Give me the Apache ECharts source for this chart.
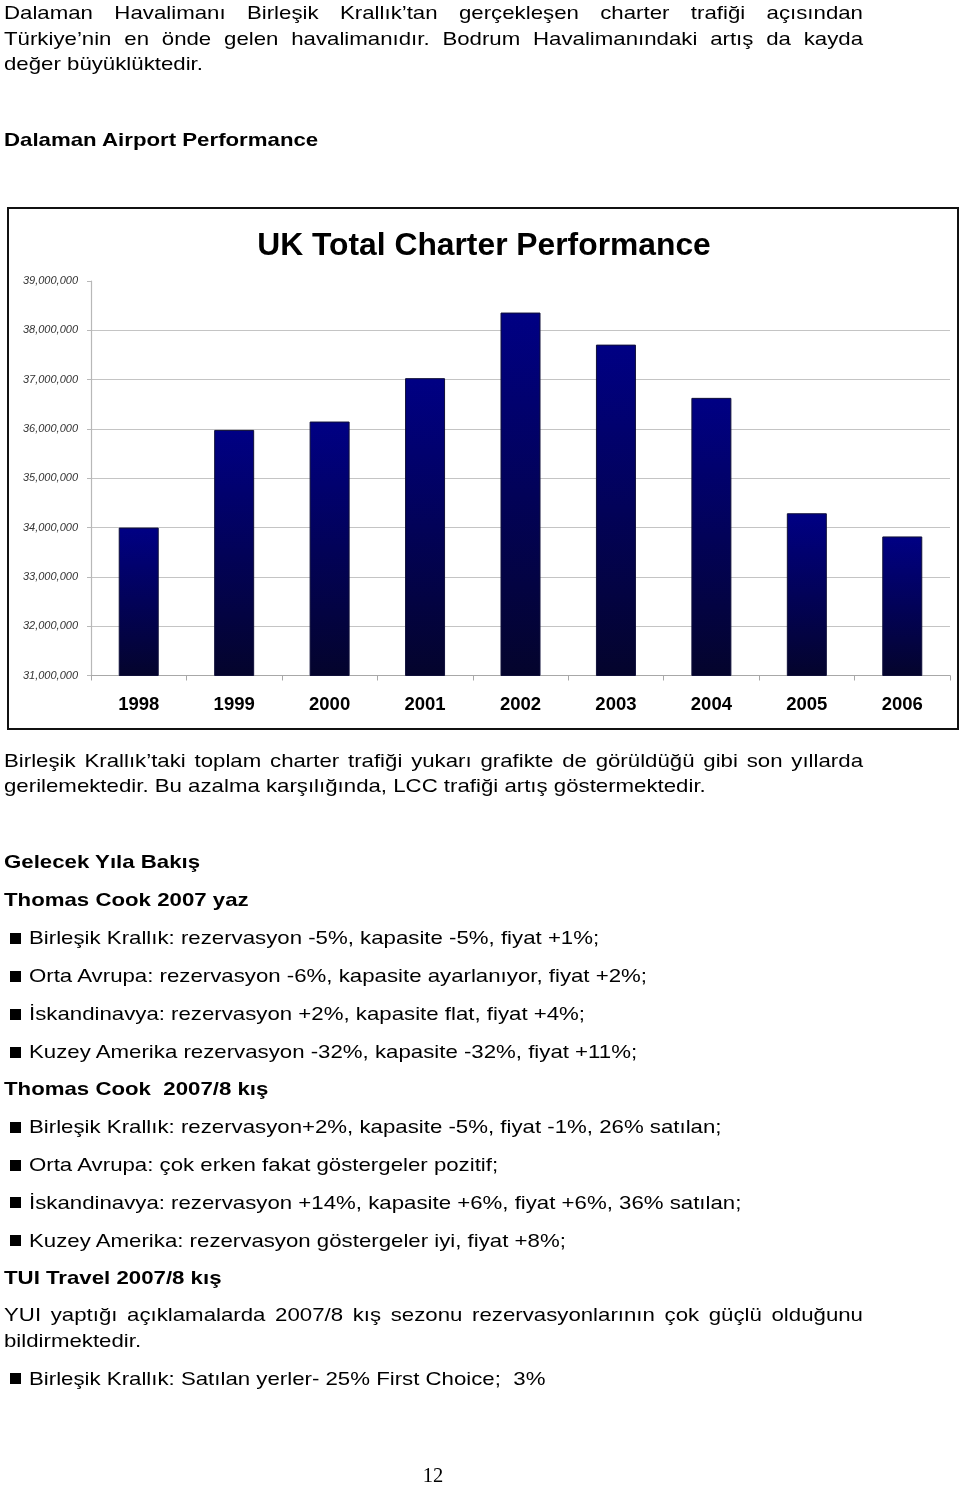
<!DOCTYPE html>
<html>
<head>
<meta charset="utf-8">
<script src="https://cdn.jsdelivr.net/npm/echarts@6/dist/echarts.min.js"></script>
<style>
  html, body { margin: 0; padding: 0; background: #fff; }
  body { width: 960px; height: 1485px; position: relative; overflow: hidden; }
  #chart { position: absolute; left: 0; top: 0; width: 960px; height: 1485px; }
  .ln { position: absolute; left: 4px; font-family: "Liberation Sans", Arial, sans-serif; font-size: 19px;
        line-height: 25px; height: 25px; color: #000; white-space: nowrap; transform: scaleX(1.17); transform-origin: 0 0; }
  .j { width: 734.2px; text-align: justify; text-align-last: justify; white-space: normal; }
  .b { font-weight: bold; }
  .bl { left: 29px; }
  .sq { position: absolute; left: 10px; width: 11px; height: 11px; background: #000; }
  .pg { position: absolute; left: 0; width: 866px; text-align: center; top: 1463px; font-family: "Liberation Serif", "Times New Roman", serif; font-size: 20.5px; line-height: 25px; }
</style>
</head>
<body>
<div id="chart"></div>

<div class="ln j" style="top:0px">Dalaman Havalimanı Birleşik Krallık’tan gerçekleşen charter trafiği açısından</div>
<div class="ln j" style="top:25.6px">Türkiye’nin en önde gelen havalimanıdır. Bodrum Havalimanındaki artış da kayda</div>
<div class="ln" style="top:51.2px">değer büyüklüktedir.</div>

<div class="ln b" style="top:127px">Dalaman Airport Performance</div>

<div class="ln j" style="top:747.7px">Birleşik Krallık’taki toplam charter trafiği yukarı grafikte de görüldüğü gibi son yıllarda</div>
<div class="ln" style="top:773.2px">gerilemektedir. Bu azalma karşılığında, LCC trafiği artış göstermektedir.</div>

<div class="ln b" style="top:848.7px">Gelecek Yıla Bakış</div>
<div class="ln b" style="top:886.7px">Thomas Cook 2007 yaz</div>

<div class="sq" style="top:933px"></div>
<div class="ln bl" style="top:925px">Birleşik Krallık: rezervasyon -5%, kapasite -5%, fiyat +1%;</div>
<div class="sq" style="top:971px"></div>
<div class="ln bl" style="top:963px">Orta Avrupa: rezervasyon -6%, kapasite ayarlanıyor, fiyat +2%;</div>
<div class="sq" style="top:1009px"></div>
<div class="ln bl" style="top:1001px">İskandinavya: rezervasyon +2%, kapasite flat, fiyat +4%;</div>
<div class="sq" style="top:1047px"></div>
<div class="ln bl" style="top:1039px">Kuzey Amerika rezervasyon -32%, kapasite -32%, fiyat +11%;</div>

<div class="ln b" style="top:1075.5px">Thomas Cook&nbsp; 2007/8 kış</div>

<div class="sq" style="top:1122px"></div>
<div class="ln bl" style="top:1114px">Birleşik Krallık: rezervasyon+2%, kapasite -5%, fiyat -1%, 26% satılan;</div>
<div class="sq" style="top:1160px"></div>
<div class="ln bl" style="top:1152px">Orta Avrupa: çok erken fakat göstergeler pozitif;</div>
<div class="sq" style="top:1197px"></div>
<div class="ln bl" style="top:1189.5px">İskandinavya: rezervasyon +14%, kapasite +6%, fiyat +6%, 36% satılan;</div>
<div class="sq" style="top:1235px"></div>
<div class="ln bl" style="top:1227.5px">Kuzey Amerika: rezervasyon göstergeler iyi, fiyat +8%;</div>

<div class="ln b" style="top:1264.5px">TUI Travel 2007/8 kış</div>

<div class="ln j" style="top:1302px">YUI yaptığı açıklamalarda 2007/8 kış sezonu rezervasyonlarının çok güçlü olduğunu</div>
<div class="ln" style="top:1327.5px">bildirmektedir.</div>

<div class="sq" style="top:1373px"></div>
<div class="ln bl" style="top:1366px">Birleşik Krallık: Satılan yerler- 25% First Choice;&nbsp; 3%</div>

<div class="pg">12</div>

<script>
// ---- data ----
const years = ['1998', '1999', '2000', '2001', '2002', '2003', '2004', '2005', '2006'];
const ukCharterPassengers = [34000000, 35980000, 36150000, 37030000, 38360000, 37710000, 36630000, 34290000, 33820000];
const yAxisMin = 31000000;
const yAxisMax = 39000000;
const yAxisStep = 1000000;
const chartTitle = 'UK Total Charter Performance';

// gridline colours: hide the top (max) gridline
const nLines = Math.round((yAxisMax - yAxisMin) / yAxisStep) + 1;
const splitColors = [];
for (let i = 0; i < nLines; i++) splitColors.push(i === nLines - 1 ? 'rgba(0,0,0,0)' : '#c4c4c4');

const chart = echarts.init(document.getElementById('chart'), null, { renderer: 'canvas' });
chart.setOption({
  backgroundColor: 'transparent',
  animation: false,
  graphic: [
    { type: 'rect', shape: { x: 8, y: 208, width: 950, height: 521 },
      style: { fill: 'none', stroke: '#111', lineWidth: 2 }, z: 0 },
    { type: 'text', x: 484, y: 246.5,
      style: { text: chartTitle, font: 'bold 31.8px "Liberation Sans", Arial, sans-serif',
               fill: '#000', textAlign: 'center', textVerticalAlign: 'middle' } }
  ],
  grid: { left: 91, right: 10, top: 281, bottom: 1485 - 675.5, containLabel: false },
  xAxis: {
    type: 'category',
    data: years,
    boundaryGap: true,
    axisLine: { show: true, lineStyle: { color: '#a8a8a8', width: 1 } },
    axisTick: { show: true, length: 5, alignWithLabel: false, lineStyle: { color: '#a8a8a8' } },
    axisLabel: { margin: 20, color: '#000', fontWeight: 'bold', fontSize: 18.5,
                 fontFamily: '"Liberation Sans", Arial, sans-serif' }
  },
  yAxis: {
    type: 'value',
    min: yAxisMin, max: yAxisMax, interval: yAxisStep,
    axisLine: { show: true, lineStyle: { color: '#b8b8b8', width: 1.2 } },
    axisTick: { show: true, length: 4, lineStyle: { color: '#b8b8b8' } },
    splitLine: { show: true, lineStyle: { color: splitColors, width: 1.2 } },
    axisLabel: { margin: 13, color: '#333', fontStyle: 'italic', fontSize: 11,
                 fontFamily: '"Liberation Sans", Arial, sans-serif',
                 formatter: v => v.toLocaleString('en-US') }
  },
  series: [{
    type: 'bar',
    data: ukCharterPassengers,
    barWidth: 40,
    itemStyle: {
      color: new echarts.graphic.LinearGradient(0, 0, 0, 1, [
        { offset: 0, color: '#000084' },
        { offset: 1, color: '#04042c' }
      ]),
      borderColor: '#10103a',
      borderWidth: 1
    }
  }]
});
</script>
</body>
</html>
